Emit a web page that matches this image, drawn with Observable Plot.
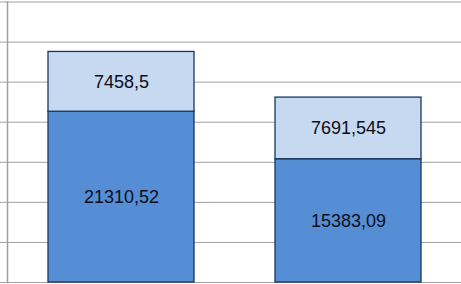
<!DOCTYPE html>
<html>
<head>
<meta charset="utf-8">
<script src="https://cdn.jsdelivr.net/npm/d3@7"></script>
<script src="https://cdn.jsdelivr.net/npm/@observablehq/plot@0.6"></script>
<style>
  html, body { margin: 0; padding: 0; background: #fff; overflow: hidden; }
  #chart svg { display: block; }
</style>
</head>
<body>
<div id="chart"></div>
<script>
const categories = ["1", "2"];
const lowerValues = [21310.52, 15383.09];
const upperValues = [7458.5, 7691.545];
const lowerLabels = ["21310,52", "15383,09"];
const upperLabels = ["7458,5", "7691,545"];
const yTicks = [0, 5000, 10000, 15000, 20000, 25000, 30000, 35000];

const rows = [];
categories.forEach((c, i) => {
  rows.push({cat: c, series: "lower", value: lowerValues[i], label: lowerLabels[i]});
  rows.push({cat: c, series: "upper", value: upperValues[i], label: upperLabels[i]});
});

const grid = "#a0a0a0";
const chart = Plot.plot({
  width: 461,
  height: 284,
  marginLeft: 7,
  marginRight: 0,
  marginTop: 1.5,
  marginBottom: 2,
  style: {background: "#fff", fontFamily: "Liberation Sans, sans-serif"},
  x: {domain: categories, range: [7, 461], paddingInner: 0.358, paddingOuter: 0.176, axis: null},
  y: {domain: [0, 35000], axis: null},
  color: {domain: ["lower", "upper"], range: ["#558ed5", "#c6d9f1"]},
  marks: [
    Plot.gridY(yTicks, {stroke: grid, strokeOpacity: 1, strokeWidth: 1}),
    Plot.axisY(yTicks, {tickSize: 7, tickFormat: () => "", label: null, stroke: grid, strokeOpacity: 1}),
    Plot.frame({anchor: "left", stroke: grid, strokeWidth: 1.5}),
    Plot.barY(rows, {x: "cat", y: "value", z: "series", fill: "series", order: ["lower", "upper"], stroke: "#17375e", strokeWidth: 1.3}),
    Plot.text(rows, Plot.stackY({x: "cat", y: "value", z: "series", order: ["lower", "upper"], text: "label", fontSize: 18, fill: "#0d0d1a"}))
  ]
});
document.getElementById("chart").appendChild(chart);
</script>
</body>
</html>
